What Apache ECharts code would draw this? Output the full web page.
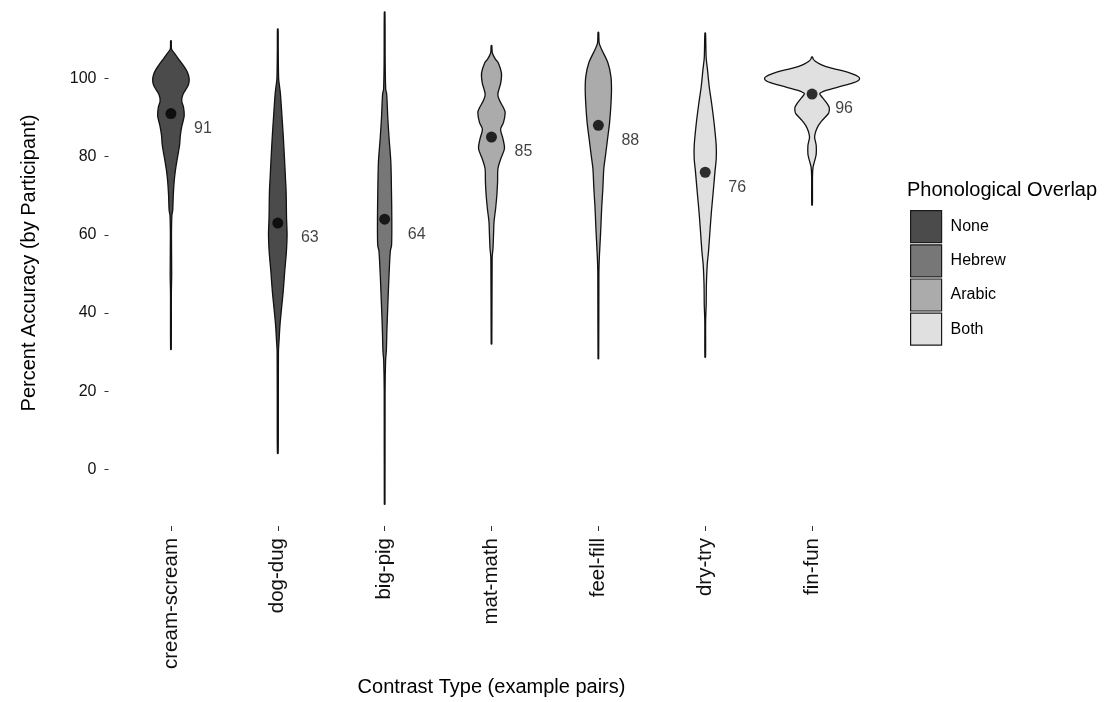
<!DOCTYPE html>
<html><head><meta charset="utf-8">
<script src="https://cdn.jsdelivr.net/npm/echarts@6/dist/echarts.min.js"></script>
<style>html,body{margin:0;padding:0;background:#fff}#c{width:1115px;height:702px}</style>
</head><body><div id="c"></div>
<script>
const categories = ['cream-scream','dog-dug','big-pig','mat-math','feel-fill','dry-try','fin-fun'];
const overlapGroups = ['None','Hebrew','Arabic','Both'];
const categoryGroup = ['None','None','Hebrew','Arabic','Arabic','Both','Both'];
const meanAccuracy = [91, 63, 64, 85, 88, 76, 96];
const yTickValues = [0, 20, 40, 60, 80, 100];

// violin outlines, top to bottom: [accuracy, half-width as fraction of one category slot]
const creamScreamShape = [[109.6,0.003],[107.5,0.006],[106.5,0.03],[105,0.07],[104,0.098],[102.3,0.14],[101,0.162],[99.7,0.171],[98.5,0.165],[97.6,0.15],[95.9,0.112],[94.2,0.101],[92.6,0.118],[90.4,0.124],[87.9,0.103],[85.4,0.088],[83.2,0.082],[81.1,0.07],[78.6,0.054],[76.1,0.04],[73.5,0.03],[70.1,0.022],[66.3,0.017],[65,0.009],[60,0.005],[50,0.007],[45,0.004],[30.7,0.003]];
const dogDugShape = [[112.6,0.003],[108,0.004],[100,0.008],[97.6,0.018],[96,0.025],[90.4,0.039],[85.4,0.051],[79.4,0.063],[74.4,0.072],[71,0.078],[64.2,0.082],[60,0.087],[55.8,0.081],[50.7,0.065],[45.6,0.051],[41.4,0.036],[37.1,0.021],[33,0.012],[30,0.006],[10,0.005],[4.1,0.003]];
const bigPigShape = [[117,0.003],[104,0.005],[97.2,0.01],[96,0.019],[89.6,0.03],[84.5,0.042],[78.6,0.058],[71,0.064],[64.2,0.067],[57.4,0.065],[55.8,0.053],[49,0.04],[42.2,0.03],[35.5,0.021],[30.4,0.016],[27.9,0.009],[20,0.004],[-8.9,0.003]];
const matMathShape = [[108.4,0.003],[106.5,0.008],[105,0.035],[104,0.063],[101.4,0.093],[98.9,0.087],[95.9,0.059],[94.2,0.078],[92.6,0.11],[91.3,0.128],[88.7,0.112],[87,0.085],[84.5,0.108],[82,0.121],[79.4,0.086],[76.9,0.06],[73.6,0.057],[70.1,0.05],[66.8,0.039],[63.4,0.024],[60,0.019],[56.6,0.014],[54,0.006],[32.1,0.003]];
const feelFillShape = [[111.8,0.003],[109,0.008],[107.4,0.031],[104,0.089],[100.6,0.117],[97.2,0.123],[93,0.117],[88.7,0.105],[84.5,0.086],[80.3,0.067],[76.9,0.051],[71.8,0.042],[66.8,0.031],[61.7,0.023],[58.4,0.017],[54,0.009],[50,0.005],[28.3,0.003]];
const dryTryShape = [[111.6,0.003],[105.2,0.009],[102.3,0.021],[98,0.037],[93,0.063],[87.9,0.086],[82.8,0.103],[79.4,0.103],[76.1,0.091],[71,0.075],[65.9,0.058],[60.8,0.044],[55.8,0.031],[52.4,0.019],[47.3,0.011],[42.2,0.009],[38,0.004],[28.7,0.003]];
const finFunShape = [[105.5,0.003],[104.9,0.012],[104.4,0.03],[103.7,0.07],[103.1,0.124],[102.5,0.2],[101.9,0.29],[101.2,0.37],[100.5,0.43],[100,0.445],[99.4,0.43],[98.9,0.39],[98.3,0.31],[97.6,0.22],[97,0.14],[96.4,0.085],[96.1,0.072],[95.5,0.085],[94.7,0.109],[93.6,0.14],[92.6,0.16],[91.6,0.16],[90.9,0.15],[89.2,0.093],[88,0.06],[87.1,0.044],[86,0.03],[84.9,0.024],[83.8,0.032],[82.8,0.039],[80.7,0.039],[79.5,0.03],[78.6,0.021],[77.3,0.009],[75,0.004],[67.6,0.003]];
const violinShapes = [creamScreamShape, dogDugShape, bigPigShape, matMathShape, feelFillShape, dryTryShape, finFunShape];

const groupColors = {None:'#4b4b4b', Hebrew:'#777777', Arabic:'#ababab', Both:'#e0e0e0'};
const FONT = '"Liberation Sans", Arial, sans-serif';

function renderViolin(params, api) {
  const idx = api.value(0);
  const shape = violinShapes[idx];
  const band = api.size([1, 0])[0];
  const left = [], right = [];
  for (const [v, w] of shape) {
    const p = api.coord([idx, v]);
    left.push([p[0] - w * band, p[1]]);
    right.push([p[0] + w * band, p[1]]);
  }
  const pts = left.concat(right.reverse());
  return {
    type: 'polygon',
    shape: { points: pts, smooth: 0.3 },
    style: { fill: api.visual('color'), stroke: '#111', lineWidth: 1.3 }
  };
}

const violinSeries = overlapGroups.map(g => ({
  type: 'custom',
  name: g,
  renderItem: renderViolin,
  itemStyle: { color: groupColors[g], borderColor: '#1a1a1a', borderWidth: 1 },
  encode: { x: 0, y: 1 },
  data: categories.map((c, i) => categoryGroup[i] === g ? [i, meanAccuracy[i]] : null).filter(d => d),
  silent: true,
  z: 2
}));

const chart = echarts.init(document.getElementById('c'), null, { renderer: 'canvas' });
chart.setOption({
  animation: false,
  backgroundColor: '#ffffff',
  textStyle: { fontFamily: FONT },
  title: {
    text: 'Phonological Overlap',
    left: 907, top: 180, padding: 0,
    textStyle: { fontSize: 20, fontWeight: 'normal', color: '#000', fontFamily: FONT }
  },
  legend: {
    data: overlapGroups,
    orient: 'vertical',
    left: 910, top: 210,
    padding: 0,
    icon: 'rect',
    itemWidth: 31, itemHeight: 32, itemGap: 1,
    itemStyle: { borderColor: '#1a1a1a', borderWidth: 1.2 },
    textStyle: { fontSize: 16, color: '#000', fontFamily: FONT, padding: [0, 0, 0, 4] },
    selectedMode: false
  },
  grid: { left: 117.5, right: 249.5, top: 0, bottom: 172, containLabel: false },
  xAxis: {
    type: 'category',
    data: categories,
    boundaryGap: true,
    axisLine: { show: false, onZero: false },
    axisTick: { show: true, length: 5, alignWithLabel: true, lineStyle: { color: '#333', width: 1 } },
    axisLabel: { rotate: 90, margin: 12, fontSize: 20.5, color: '#111', fontFamily: FONT, interval: 0 },
    splitLine: { show: false },
    name: 'Contrast Type (example pairs)',
    nameLocation: 'middle',
    nameGap: 151,
    nameTextStyle: { fontSize: 20, color: '#000', fontFamily: FONT }
  },
  yAxis: {
    type: 'value',
    min: -14.47, max: 120.05,
    offset: 9,
    axisLine: { show: false },
    splitLine: { show: false },
    axisTick: { show: true, length: 4, customValues: yTickValues, lineStyle: { color: '#333', width: 1 } },
    axisLabel: { customValues: yTickValues, margin: 12, fontSize: 16, color: '#111', fontFamily: FONT },
    name: 'Percent Accuracy (by Participant)',
    nameLocation: 'middle',
    nameGap: 69,
    nameTextStyle: { fontSize: 20, color: '#000', fontFamily: FONT }
  },
  series: violinSeries.concat([{
    type: 'scatter',
    name: 'mean',
    data: categories.map((c, i) => [i, meanAccuracy[i]]),
    symbol: 'circle',
    symbolSize: 11,
    itemStyle: { color: '#000' },
    silent: true,
    z: 5,
    label: {
      show: true,
      formatter: p => String(p.value[1]),
      position: 'inside',
      offset: [32, 15],
      fontSize: 16,
      color: '#111',
      fontFamily: FONT
    }
  }])
});
</script>
</body></html>
